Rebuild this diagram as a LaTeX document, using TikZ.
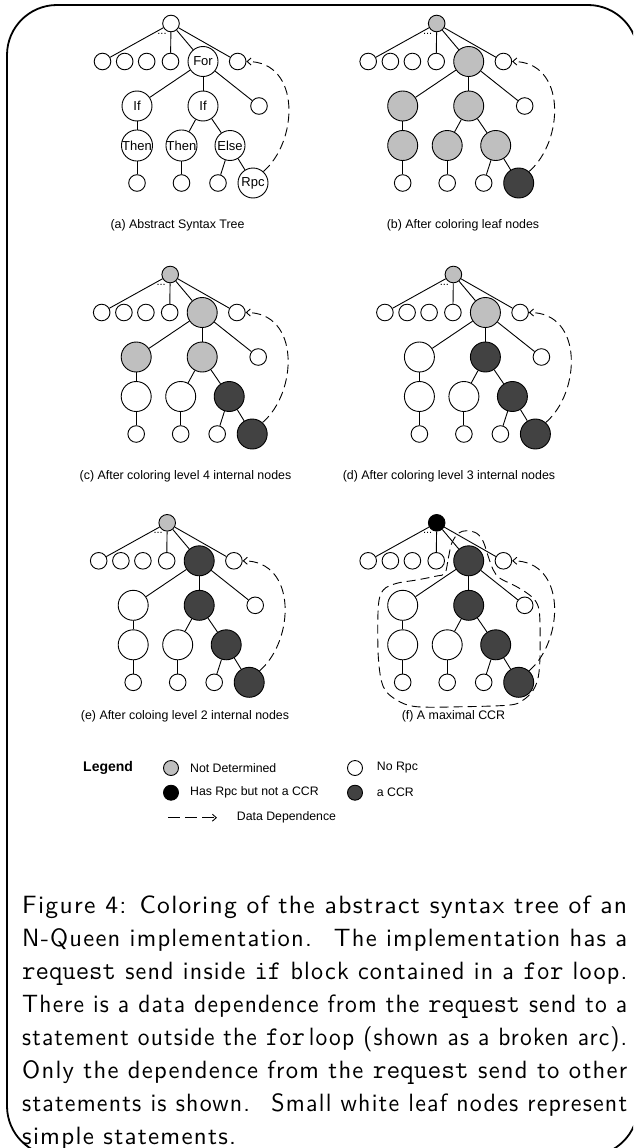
\documentclass[tikz,border=0pt]{standalone}
\usepackage{fontspec}
\usepackage{graphicx}
\newfontfamily\arial{Liberation Sans}
\newfontfamily\capsf{lmsans10-regular.otf}[LetterSpace=5]
\usetikzlibrary{arrows.meta}
\definecolor{ndgray}{gray}{0.75}
\definecolor{ccrgray}{gray}{0.26}
\newcommand\lblFor{}
\newcommand\lblIf{}
\newcommand\lblThen{}
\newcommand\lblElse{}
\newcommand\lblRpc{}
\newcommand\capline[1]{\resizebox{605pt}{\height}{#1}}
\newcommand\ttw[1]{{\ttfamily\fontsize{27}{33}\selectfont #1}}
\tikzset{
  tn/.style={circle, draw, line width=0.9pt, inner sep=0pt, fill=white},
  sm/.style={tn, minimum size=16.6pt},
  bg/.style={tn, minimum size=30pt, font=\arial\fontsize{13}{13}\selectfont},
  fnd/.style={fill=ndgray}, fcc/.style={fill=ccrgray}, fhr/.style={fill=black}, fnr/.style={fill=white},
  sRoot/.style={fnr}, sFor/.style={fnr}, sIfA/.style={fnr}, sIfB/.style={fnr},
  sThA/.style={fnr}, sThB/.style={fnr}, sEl/.style={fnr}, sRpc/.style={fnr},
  tedge/.style={line width=0.9pt},
  dep/.style={line width=0.9pt, dash pattern=on 9pt off 5pt, -{Straight Barb[length=4pt,width=7pt]}},
  subcap/.style={font=\arial\fontsize{12.4}{14}\selectfont, inner sep=0pt},
  legtext/.style={font=\arial\fontsize{12.3}{14}\selectfont, inner sep=0pt, anchor=west},
  legc/.style={circle, draw, line width=0.9pt, inner sep=0pt, minimum size=15pt},
}
\newcommand\asttree[1]{%
  \node[sm,sRoot] (#1r) at (171,23.5) {};
  \node[sm] (#1c1) at (102.5,61.5) {};
  \node[sm] (#1c2) at (124.7,61.5) {};
  \node[sm] (#1c3) at (146.7,61.5) {};
  \node[sm] (#1c4) at (170.5,61.5) {};
  \node[bg,sFor] (#1for) at (203,61.5) {\lblFor};
  \node[sm] (#1c6) at (237.7,61.5) {};
  \node[bg,sIfA] (#1ifa) at (137,106) {\lblIf};
  \node[bg,sIfB] (#1ifb) at (203,106) {\lblIf};
  \node[sm] (#1s) at (259,106) {};
  \node[bg,sThA] (#1tha) at (137,145.5) {\lblThen};
  \node[bg,sThB] (#1thb) at (181.5,145.5) {\lblThen};
  \node[bg,sEl] (#1el) at (230,145.5) {\lblElse};
  \node[sm] (#1la) at (137,183) {};
  \node[sm] (#1lb) at (181.5,183) {};
  \node[sm] (#1lc) at (218,183) {};
  \node[bg,sRpc] (#1rpc) at (253,183) {\lblRpc};
  \node[font=\arial\fontsize{11}{11}\selectfont, inner sep=0pt] (#1dots) at (162,33.5) {...};
  \draw[tedge] (#1r) -- (#1c1);
  \draw[tedge] (#1r) -- (#1c4);
  \draw[tedge] (#1r) -- (#1for);
  \draw[tedge] (#1r) -- (#1c6);
  \draw[tedge] (#1for) -- (#1ifa);
  \draw[tedge] (#1for) -- (#1ifb);
  \draw[tedge] (#1for) -- (#1s);
  \draw[tedge] (#1ifa) -- (#1tha);
  \draw[tedge] (#1ifb) -- (#1thb);
  \draw[tedge] (#1ifb) -- (#1el);
  \draw[tedge] (#1tha) -- (#1la);
  \draw[tedge] (#1thb) -- (#1lb);
  \draw[tedge] (#1el) -- (#1lc);
  \draw[tedge] (#1el) -- (#1rpc);
  \draw[dep] (#1rpc.48) .. controls +(35,-30) and +(55,0) .. (#1c6.east);
}
\begin{document}
\begin{tikzpicture}[x=1pt,y=-1pt]
\useasboundingbox (0,0) rectangle (633,1148);
\begin{scope}
  \clip (0,0) rectangle (633,1148);
  \draw[line width=1.8pt, rounded corners=50pt] (7,5) rectangle (638,1156);
\end{scope}

% (a)
\begin{scope}
  \def\lblFor{For}\def\lblIf{If}\def\lblThen{Then}\def\lblElse{Else}\def\lblRpc{Rpc}
  \asttree{a}
\end{scope}
\node[subcap] (capa) at (177.5,225) {(a) Abstract Syntax Tree};

% (b)
\begin{scope}[shift={(265.7,0)}, sRoot/.style={fnd}, sFor/.style={fnd}, sIfA/.style={fnd}, sIfB/.style={fnd},
  sThA/.style={fnd}, sThB/.style={fnd}, sEl/.style={fnd}, sRpc/.style={fcc}]
  \asttree{b}
\end{scope}
\node[subcap] (capb) at (463,225) {(b) After coloring leaf nodes};

% (c)
\begin{scope}[shift={(-0.8,251)}, sRoot/.style={fnd}, sFor/.style={fnd}, sIfA/.style={fnd}, sIfB/.style={fnd},
  sEl/.style={fcc}, sRpc/.style={fcc}]
  \asttree{c}
\end{scope}
\node[subcap] (capc) at (185.5,476) {(c) After coloring level 4 internal nodes};

% (d)
\begin{scope}[shift={(282.4,251)}, sRoot/.style={fnd}, sFor/.style={fnd}, sIfB/.style={fcc},
  sEl/.style={fcc}, sRpc/.style={fcc}]
  \asttree{d}
\end{scope}
\node[subcap] (capd) at (449,476) {(d) After coloring level 3 internal nodes};

% (e)
\begin{scope}[shift={(-3.8,499.3)}, sRoot/.style={fnd}, sFor/.style={fcc}, sIfB/.style={fcc},
  sEl/.style={fcc}, sRpc/.style={fcc}]
  \asttree{e}
\end{scope}
\node[subcap] (cape) at (185,716) {(e) After coloing level 2 internal nodes};

% (f)
\begin{scope}[shift={(265.7,499.3)}, sRoot/.style={fhr}, sFor/.style={fcc}, sIfB/.style={fcc},
  sEl/.style={fcc}, sRpc/.style={fcc}]
  \asttree{f}
  \draw[line width=0.9pt, dash pattern=on 9pt off 5pt] plot[smooth cycle, tension=0.55] coordinates {
    (179.3,74.0) (182.6,59.0) (186.0,44.0) (192.6,34.0) (201.0,31.4) (211.0,34.0) (217.6,42.4)
    (222.6,57.4) (227.6,70.7) (234.3,79.0) (251.0,87.4) (266.0,97.4) (272.6,107.4) (274.3,124.0)
    (274.3,157.4) (272.6,177.4) (267.6,190.7) (257.6,200.7) (244.3,205.7) (197.6,207.4)
    (151.0,207.4) (131.0,200.7) (117.6,187.4) (112.6,157.4) (112.6,107.4) (117.6,90.7)
    (131.0,84.0) (151.0,80.7) (171.0,76.7)};
\end{scope}
\node[subcap] (capf) at (453.5,716) {(f) A maximal CCR};

% legend
\node[font=\arial\bfseries\fontsize{14}{16}\selectfont, inner sep=0pt, anchor=west] (leg) at (83,768) {Legend};
\node[legc, fill=ndgray] (l1) at (171,768) {};
\node[legtext] (t1) at (190,768) {Not Determined};
\node[legc, fill=white] (l2) at (355,768) {};
\node[legtext] (t2) at (376.7,768) {No Rpc};
\node[legc, fill=black] (l3) at (171,792.7) {};
\node[legtext] (t3) at (190,792.7) {Has Rpc but not a CCR};
\node[legc, fill=ccrgray] (l4) at (355,792.7) {};
\node[legtext] (t4) at (376.7,792.7) {a CCR};
\coordinate (da) at (168,817.7);
\coordinate (db) at (217,817.7);
\draw[dep, dash pattern=on 12pt off 5pt] (da) -- (db);
\node[legtext] (t5) at (236.7,817.7) {Data Dependence};

% caption
\node[anchor=north west, align=left, inner sep=0pt,
      font=\capsf\fontsize{25}{33}\selectfont] (caption) at (22,896) {%
\capline{Figure 4: Coloring of the abstract syntax tree of an}\\
\capline{N-Queen implementation. \ The implementation has a}\\
\capline{\ttw{request} send inside \ttw{if} block contained in a \ttw{for} loop.}\\
\capline{There is a data dependence from the \ttw{request} send to a}\\
\capline{statement outside the \ttw{for}\,loop (shown as a broken arc).}\\
\capline{Only the dependence from the \ttw{request} send to other}\\
\capline{statements is shown. \ Small white leaf nodes represent}\\
simple statements.};
\end{tikzpicture}
\end{document}
